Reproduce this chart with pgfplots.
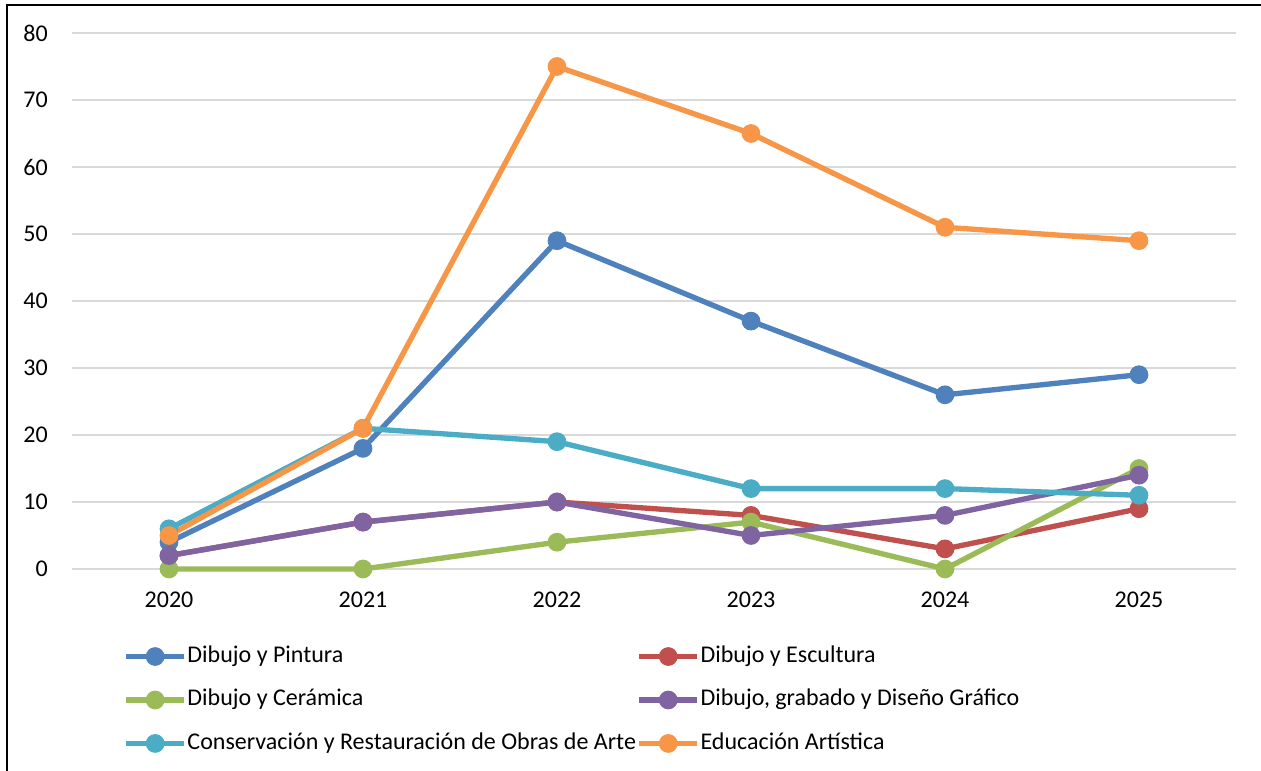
\documentclass[border=0pt]{standalone}
\usepackage{fontspec}
\setmainfont{Carlito}
\usepackage{pgfplots}
\pgfplotsset{compat=1.18}

\definecolor{cPin}{HTML}{4F81BD}
\definecolor{cEsc}{HTML}{C0504D}
\definecolor{cCer}{HTML}{9BBB59}
\definecolor{cDis}{HTML}{8064A2}
\definecolor{cCon}{HTML}{4BACC6}
\definecolor{cEdu}{HTML}{F79646}
\definecolor{gridc}{HTML}{D9D9D9}

\newcommand{\chartfont}{\fontsize{18}{22}\selectfont}

\begin{document}
\begin{tikzpicture}
% page: 1261 x 771 px, 1 px = 0.75pt
\useasboundingbox (0pt,0pt) rectangle (945.75pt,578.25pt);
% frame of the chart area (left and top edges only visible)
\draw[line width=1.5pt] (5.25pt,0pt) -- (5.25pt,574.5pt) -- (945.75pt,574.5pt);

\begin{axis}[
  at={(54pt,151.5pt)}, anchor=south west,
  scale only axis,
  width=873pt, height=402pt,
  xmin=2019.5, xmax=2025.5,
  ymin=0, ymax=80,
  xtick={2020,2021,2022,2023,2024,2025},
  ytick={0,10,20,30,40,50,60,70,80},
  axis line style={draw=none},
  tick style={draw=none},
  ymajorgrids=true,
  major grid style={line width=1.1pt, draw=gridc},
  clip=false,
  /pgf/number format/assume math mode=true,
  /pgf/number format/1000 sep={},
  ticklabel style={font=\chartfont, inner sep=0pt},
  yticklabel style={anchor=east, xshift=-18pt},
  xticklabel style={anchor=north, yshift=-17pt},
  every axis plot/.append style={line width=4pt, mark=*, mark size=5pt},
  legend columns=2,
  legend cell align=left,
  legend style={draw=none, fill=none, inner sep=0pt,
    at={(0.044,-0.2444)}, anchor=west,
    font=\chartfont,
    nodes={inner xsep=0.5pt, inner ysep=0pt, text height=13pt, text depth=4pt},
    row sep=15.6pt, column sep=0pt},
  legend image code/.code={
    \draw[#1, mark repeat=2, mark phase=2] plot coordinates {(0pt,0pt) (21.75pt,0pt) (43.5pt,0pt)};
  },
]
\addplot[cPin, mark options={fill=cPin, draw=cPin}] coordinates {(2020,4) (2021,18) (2022,49) (2023,37) (2024,26) (2025,29)};
\addlegendentry{Dibujo y Pintura}
\addplot[cEsc, mark options={fill=cEsc, draw=cEsc}] coordinates {(2020,2) (2021,7) (2022,10) (2023,8) (2024,3) (2025,9)};
\addlegendentry{Dibujo y Escultura}
\addplot[cCer, mark options={fill=cCer, draw=cCer}] coordinates {(2020,0) (2021,0) (2022,4) (2023,7) (2024,0) (2025,15)};
\addlegendentry{Dibujo y Cerámica}
\addplot[cDis, mark options={fill=cDis, draw=cDis}] coordinates {(2020,2) (2021,7) (2022,10) (2023,5) (2024,8) (2025,14)};
\addlegendentry{Dibujo, grabado y Diseño Gráfico}
\addplot[cCon, mark options={fill=cCon, draw=cCon}] coordinates {(2020,6) (2021,21) (2022,19) (2023,12) (2024,12) (2025,11)};
\addlegendentry{Conservación y Restauración de Obras de Arte}
\addplot[cEdu, mark options={fill=cEdu, draw=cEdu}] coordinates {(2020,5) (2021,21) (2022,75) (2023,65) (2024,51) (2025,49)};
\addlegendentry{Educación Artística}
\end{axis}
\end{tikzpicture}
\end{document}
